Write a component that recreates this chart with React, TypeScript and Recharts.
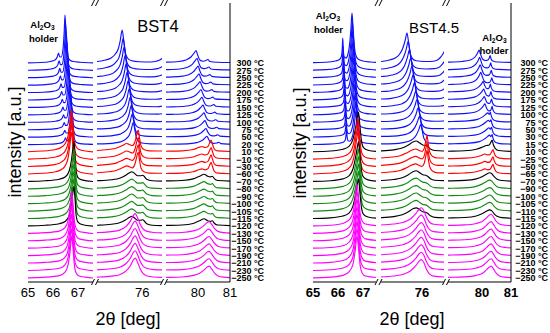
import React from "react";
import { LineChart, Line, XAxis, YAxis } from "recharts";

type Knot = [number, number];
type Profiles = Record<string, Knot[]>;

const FONT = "'Liberation Sans', Arial, Helvetica, sans-serif";

// temperatures (°C) of the stacked scans, top curve first
const BST4_TEMPS = [300, 275, 250, 225, 200, 175, 150, 125, 100, 75, 50, 20, 10, -10, -30, -60, -70, -80, -90, -100, -105, -115, -120, -130, -150, -170, -190, -210, -230, -250];
const BST45_TEMPS = [300, 275, 250, 225, 200, 175, 125, 100, 75, 50, 30, 15, 10, -25, -50, -65, -70, -90, -100, -105, -110, -115, -120, -130, -150, -170, -190, -210, -230, -250];

// phase group of each scan (b = blue, r = red, k = black, g = green, m = magenta)
const BST4_GROUPS = ["b1", "b1", "b1", "b1", "b1", "b1", "b1", "b1", "b1", "b1", "b1", "b1", "r", "r", "r", "r", "k", "g", "g", "g", "g", "g", "k", "m", "m", "m", "m", "m", "m", "m"];
const BST45_GROUPS = ["b1", "b1", "b1", "b1", "b2", "b2", "b2", "b2", "b3", "b3", "b3", "b3", "k1", "r", "r", "r", "k", "g", "g", "g", "g", "k", "m", "m", "m", "m", "m", "m", "m", "m"];

// peak drift of the blue scans (in steps) and their relative peak height
const BLUE_DRIFT = [0, 1, 2, 3, 4, 5, 6, 7, 8, 9, 10, 11, 0, 0, 0, 0, 0, 0, 0, 0, 0, 0, 0, 0, 0, 0, 0, 0, 0, 0];
const BLUE_DRIFT_SUB = [0, 1, 2, 3, 0, 1, 2, 3, 0, 1, 2, 3, 0, 0, 0, 0, 0, 0, 0, 0, 0, 0, 0, 0, 0, 0, 0, 0, 0, 0];
const BLUE_GAIN = [1, 0.97, 0.94, 0.91, 0.88, 0.85, 0.82, 0.79, 0.76, 0.73, 0.7, 0.67, 1, 1, 1, 1, 1, 1, 1, 1, 1, 1, 1, 1, 1, 1, 1, 1, 1, 1];

// ---- BST4 profiles: [2theta, height above baseline] ----
const L_SEG1: Profiles = {
  b1: [[64.4, 0], [65.5, 0.5], [65.9, 1.5], [66.08, 3], [66.17, 6], [66.22, 10], [66.27, 6], [66.33, 6], [66.4, 14], [66.45, 32], [66.48, 48], [66.51, 34], [66.55, 14], [66.6, 6], [66.67, 3], [66.8, 1.5], [67.1, 0.7], [67.7, 0]],
  r: [[64.4, 0], [65.6, 1], [66.1, 2.5], [66.35, 5], [66.5, 9], [66.6, 16], [66.68, 30], [66.74, 42], [66.79, 30], [66.85, 12], [66.93, 5], [67.05, 2.5], [67.3, 1], [67.7, 0]],
  g: [[64.4, 0], [65.7, 1], [66.25, 2.5], [66.5, 5], [66.65, 11], [66.74, 22], [66.8, 34], [66.84, 40], [66.88, 28], [66.93, 10], [67.0, 4], [67.15, 1.8], [67.7, 0]],
  m: [[64.4, 0], [65.7, 1], [66.25, 2.5], [66.48, 6], [66.6, 13], [66.68, 26], [66.75, 42], [66.8, 30], [66.86, 12], [66.93, 5], [67.05, 2.2], [67.3, 1], [67.7, 0]],
};
const L_SEG2: Profiles = {
  b1: [[73.8, 1], [74.4, 1.5], [74.7, 3], [74.9, 5], [75.05, 9], [75.15, 14], [75.22, 22], [75.29, 33], [75.34, 24], [75.4, 11], [75.48, 5], [75.6, 2.5], [75.9, 1.2], [76.3, 1], [76.5, 1.8], [76.62, 3], [76.72, 5], [76.8, 7]],
  r: [[73.8, 1], [74.4, 1.5], [74.8, 2.5], [75.1, 4], [75.3, 6.5], [75.45, 8.5], [75.55, 7.5], [75.65, 6.5], [75.74, 10], [75.81, 18], [75.86, 22], [75.9, 15], [75.96, 6], [76.06, 2.5], [76.25, 1.2], [76.8, 1]],
  g: [[73.8, 0.5], [74.4, 1], [74.9, 2], [75.2, 3.5], [75.42, 6.5], [75.55, 9], [75.63, 10], [75.72, 8.5], [75.84, 6], [75.94, 6], [76.02, 6.5], [76.08, 5], [76.16, 2.5], [76.35, 1], [76.8, 0.5]],
  m: [[73.8, 0.5], [74.4, 1], [74.9, 2], [75.2, 3.5], [75.42, 7], [75.58, 12.5], [75.68, 18], [75.75, 20], [75.82, 17], [75.92, 10], [76.02, 5], [76.15, 2.5], [76.4, 1.2], [76.8, 0.8]],
};
const L_SEG3: Profiles = {
  b1: [[78.4, 0.5], [79.0, 0.8], [79.4, 1.5], [79.62, 3], [79.78, 6], [79.88, 10], [79.94, 12.5], [79.99, 8], [80.06, 3], [80.15, 1.8], [80.25, 2.5], [80.31, 3.5], [80.37, 1.5], [80.6, 0.8], [81.1, 0.5]],
  r: [[78.4, 0.5], [79.0, 0.8], [79.5, 1.2], [79.85, 2.5], [80.02, 4.5], [80.12, 5.5], [80.22, 4.5], [80.31, 5.5], [80.37, 9.5], [80.41, 12], [80.45, 8], [80.51, 3], [80.62, 1.2], [81.1, 0.5]],
  g: [[78.4, 0.5], [79.0, 0.8], [79.5, 1.2], [79.85, 2.8], [80.05, 5.5], [80.19, 7.5], [80.3, 5.5], [80.39, 4.8], [80.45, 5.5], [80.51, 3], [80.62, 1.2], [81.1, 0.5]],
  m: [[78.4, 0.5], [79.0, 0.8], [79.5, 1.2], [79.85, 2.8], [80.05, 5], [80.2, 8.5], [80.3, 11.5], [80.35, 12], [80.42, 9.5], [80.52, 5], [80.64, 2], [80.8, 1], [81.1, 0.5]],
};

// ---- BST4.5 profiles ----
const R_SEG1: Profiles = {
  b1: [[64.4, 0], [65.5, 0.8], [65.9, 2], [66.06, 3.5], [66.13, 6], [66.17, 14], [66.19, 25], [66.21, 14], [66.25, 6], [66.32, 5], [66.4, 9], [66.47, 20], [66.52, 35], [66.56, 50], [66.6, 36], [66.65, 18], [66.71, 8], [66.8, 4], [67.0, 2], [67.3, 1], [67.6, 0.5]],
  r: [[64.4, 0], [65.6, 1], [66.1, 2.5], [66.38, 5], [66.55, 10], [66.66, 20], [66.74, 34], [66.8, 42], [66.85, 30], [66.91, 12], [66.98, 5], [67.1, 2.2], [67.3, 1], [67.6, 0.5]],
  g: [[64.4, 0], [65.7, 1], [66.2, 2.8], [66.45, 6], [66.6, 13], [66.7, 24], [66.77, 34], [66.82, 40], [66.87, 28], [66.94, 11], [67.02, 4.5], [67.2, 1.8], [67.6, 0.5]],
  m: [[64.4, 0], [65.7, 1], [66.2, 2.8], [66.45, 6.5], [66.6, 14], [66.69, 28], [66.76, 42], [66.82, 30], [66.89, 12], [66.97, 5], [67.1, 2.2], [67.6, 0.5]],
};
const R_SEG2: Profiles = {
  b1: [[73.9, 1], [74.55, 1.5], [74.85, 3], [75.05, 5], [75.2, 8.5], [75.31, 14], [75.4, 22], [75.47, 30], [75.52, 22], [75.58, 10], [75.66, 4.5], [75.8, 2.2], [76.1, 1.5], [76.4, 1.8], [76.55, 3], [76.65, 5.5], [76.73, 8.5], [76.8, 12], [76.9, 16]],
  r: [[73.9, 1], [74.55, 1.5], [74.95, 2.5], [75.25, 4], [75.45, 6.5], [75.62, 9], [75.78, 10.5], [75.9, 9], [76.0, 8], [76.08, 11], [76.14, 19], [76.18, 24], [76.22, 16], [76.28, 7], [76.38, 3], [76.55, 1.5], [76.9, 1.5]],
  g: [[73.9, 0.8], [74.55, 1.2], [75.0, 2.2], [75.3, 4], [75.52, 7], [75.68, 10], [75.8, 11], [75.92, 9], [76.03, 7], [76.13, 6.5], [76.2, 5.5], [76.3, 3], [76.45, 1.5], [76.9, 1]],
  m: [[73.9, 0.8], [74.55, 1.2], [75.0, 2.2], [75.35, 4], [75.6, 7.5], [75.78, 12.5], [75.9, 17], [75.98, 18.5], [76.06, 16], [76.16, 9], [76.27, 4], [76.42, 2], [76.9, 1]],
};
const R_SEG3: Profiles = {
  b1: [[78.2, 0.5], [78.83, 0.8], [79.3, 1.5], [79.6, 3], [79.76, 6], [79.85, 10], [79.9, 13], [79.95, 9], [80.02, 4], [80.12, 2.5], [80.21, 3], [80.25, 5], [80.28, 7.5], [80.31, 4.5], [80.37, 2], [80.55, 1], [81.1, 0.5]],
  b2: [[78.2, 0.5], [78.83, 0.8], [79.4, 1.5], [79.72, 3], [79.9, 6], [79.99, 9], [80.04, 11], [80.09, 7.5], [80.15, 4.5], [80.22, 4], [80.26, 6], [80.29, 8.5], [80.32, 5], [80.39, 2], [80.55, 1], [81.1, 0.5]],
  b3: [[78.2, 0.5], [78.83, 0.8], [79.5, 1.5], [79.85, 3], [80.02, 5.5], [80.13, 8], [80.2, 9.5], [80.25, 8], [80.29, 10], [80.32, 6.5], [80.38, 3], [80.48, 1.5], [80.65, 0.8], [81.1, 0.5]],
  k1: [[78.2, 0.5], [78.83, 0.8], [79.4, 1.3], [79.8, 2.8], [80.02, 5], [80.15, 6.5], [80.25, 7], [80.31, 10], [80.35, 12], [80.39, 7.5], [80.46, 3.5], [80.58, 1.5], [81.1, 0.5]],
  r: [[78.2, 0.5], [78.83, 0.8], [79.4, 1.3], [79.8, 2.5], [79.98, 4], [80.1, 5.5], [80.2, 4.5], [80.28, 5], [80.34, 8], [80.38, 10], [80.42, 6.5], [80.48, 3], [80.6, 1.3], [81.1, 0.5]],
  g: [[78.2, 0.5], [78.83, 0.8], [79.4, 1.3], [79.8, 2.8], [80.0, 5], [80.15, 7.5], [80.26, 9], [80.34, 8], [80.42, 5], [80.52, 2.5], [80.68, 1.2], [81.1, 0.5]],
  m: [[78.2, 0.5], [78.83, 0.8], [79.4, 1.3], [79.8, 2.8], [80.02, 5], [80.16, 8.5], [80.27, 11.5], [80.32, 12], [80.39, 9.5], [80.49, 5], [80.62, 2], [80.8, 1], [81.1, 0.5]],
};

const COLORS: Record<string, string> = {
  b1: "#1010ff",
  b2: "#1010ff",
  b3: "#1010ff",
  r: "#ff0000",
  k: "#000000",
  k1: "#000000",
  g: "#138a13",
  m: "#ff00ff",
};
const FALLBACK: Record<string, string> = { b2: "b1", b3: "b2", k1: "k", k: "g" };

interface Seg {
  domain: [number, number];
  ticks: number[];
  x0: number;
  x1: number;
  step: number;
  sub: boolean;
  profiles: Profiles;
}

const BST4_SEGS: Seg[] = [
  { domain: [65, 67.6], ticks: [65, 66, 67], x0: 28, x1: 93, step: 0.0255, sub: false, profiles: L_SEG1 },
  { domain: [74.4, 76.7], ticks: [76], x0: 97, x1: 162, step: 0.0355, sub: false, profiles: L_SEG2 },
  { domain: [79, 81], ticks: [80, 81], x0: 166, x1: 230, step: 0.031, sub: false, profiles: L_SEG3 },
];
const BST45_SEGS: Seg[] = [
  { domain: [65, 67.52], ticks: [65, 66, 67], x0: 313, x1: 376, step: 0.0136, sub: false, profiles: R_SEG1 },
  { domain: [74.55, 76.78], ticks: [76], x0: 381, x1: 444, step: 0.044, sub: false, profiles: R_SEG2 },
  { domain: [78.83, 81], ticks: [80, 81], x0: 448, x1: 511, step: 0.02, sub: true, profiles: R_SEG3 },
];

// stacking layout (plot is 279px tall, 1 unit = 1px)
const PLOT_H = 279;
const BASE_TOP = 219;
const STACK = 7.42;
const baseline = (t: number) => Math.round((BASE_TOP - t * STACK) * 100) / 100;

const fmtTemp = (t: number) => `${t < 0 ? "\u2212" + Math.abs(t) : t} \u00b0C`;

const findProfile = (profiles: Profiles, g: string): Knot[] => {
  let key: string | undefined = g;
  while (key && !profiles[key]) key = FALLBACK[key];
  return key ? profiles[key] : [];
};

interface PanelProps {
  segs: Seg[];
  groups: string[];
  temps: number[];
  labelEnd: number;
  tickWeight: number;
}

function Segment({ seg, index, groups, temps, labelEnd, tickWeight }: PanelProps & { seg: Seg; index: number }) {
  const first = index === 0;
  const last = index === 2;
  const padL = first ? 14 : 2;
  const padR = last ? 0 : 2;
  const yW = last ? 44 : 0;
  const width = padL + (seg.x1 - seg.x0) + padR + yW;

  const series = groups.map((g, t) => {
    const drift = seg.sub ? BLUE_DRIFT_SUB[t] : BLUE_DRIFT[t];
    const gain = seg.sub ? 1 : BLUE_GAIN[t];
    const shift = seg.step * drift;
    const base = baseline(t);
    return {
      key: `c${t}`,
      color: COLORS[g],
      data: findProfile(seg.profiles, g).map(([x, h]) => ({ x: x + shift, y: base + h * gain })),
    };
  });

  // temperature labels sit on the right frame, one per scan baseline
  const labelValues = temps.map((_, t) => baseline(t));
  const labelMap = new Map<number, string>();
  labelValues.forEach((v, i) => labelMap.set(v, fmtTemp(temps[i])));

  const renderTick = (props: any) => {
    const { x, y, payload, index: i } = props;
    const text = labelMap.get(payload.value) ?? fmtTemp(temps[i] ?? 0);
    return (
      <text x={x + labelEnd} y={y} dy="0.35em" textAnchor="end" fontSize={9} fontWeight={700} fontFamily={FONT} fill="#000">
        {text}
      </text>
    );
  };

  return (
    <div style={{ position: "absolute", left: seg.x0 - padL, top: 0 }}>
      <LineChart width={width} height={300} margin={{ top: 3, right: padR, bottom: 0, left: padL }}>
        <XAxis
          xAxisId="b"
          type="number"
          dataKey="x"
          domain={seg.domain}
          ticks={seg.ticks}
          allowDataOverflow
          interval={0}
          height={18}
          tickLine={false}
          tickSize={4}
          tickMargin={2}
          axisLine={{ stroke: "#000" }}
          tick={{ fontSize: 13, fill: "#000", fontFamily: FONT, fontWeight: tickWeight }}
        />
        <XAxis
          xAxisId="t"
          orientation="top"
          type="number"
          dataKey="x"
          domain={seg.domain}
          allowDataOverflow
          height={0}
          tick={false}
          tickLine={false}
          axisLine={{ stroke: "#000" }}
        />
        <YAxis
          yAxisId="y"
          type="number"
          domain={[0, PLOT_H]}
          allowDataOverflow
          orientation={last ? "right" : "left"}
          width={yW}
          hide={!first && !last}
          ticks={last ? labelValues : []}
          interval={0}
          tick={last ? renderTick : false}
          tickLine={false}
          tickSize={0}
          tickMargin={0}
          axisLine={{ stroke: "#000" }}
        />
        {series.map((s) => (
          <Line
            key={s.key}
            xAxisId="b"
            yAxisId="y"
            data={s.data}
            dataKey="y"
            type="monotone"
            stroke={s.color}
            strokeWidth={1.15}
            dot={false}
            activeDot={false}
            isAnimationActive={false}
          />
        ))}
      </LineChart>
    </div>
  );
}

function Panel(props: PanelProps) {
  return (
    <>
      {props.segs.map((seg, i) => (
        <Segment key={i} seg={seg} index={i} {...props} />
      ))}
    </>
  );
}

const BREAKS = [95, 164, 378.5, 446];

function Txt({ cx, top, size, weight = 400, children }: { cx: number; top: number; size: number; weight?: number; children: React.ReactNode }) {
  return (
    <div
      style={{
        position: "absolute",
        left: cx - 100,
        top,
        width: 200,
        textAlign: "center",
        fontSize: size,
        lineHeight: `${size}px`,
        fontWeight: weight,
        whiteSpace: "nowrap",
      }}
    >
      {children}
    </div>
  );
}

function VTxt({ cx, cy, size, children }: { cx: number; cy: number; size: number; children: React.ReactNode }) {
  return (
    <div
      style={{
        position: "absolute",
        left: cx - 100,
        top: cy - size / 2,
        width: 200,
        height: size,
        textAlign: "center",
        fontSize: size,
        lineHeight: `${size}px`,
        whiteSpace: "nowrap",
        transform: "rotate(-90deg)",
      }}
    >
      {children}
    </div>
  );
}

const Sub = ({ children }: { children: React.ReactNode }) => (
  <sub style={{ fontSize: "70%", verticalAlign: "-0.25em", lineHeight: 0 }}>{children}</sub>
);

const Al2O3 = () => (
  <span>
    Al<Sub>2</Sub>O<Sub>3</Sub>
  </span>
);

export default function App() {
  return (
    <div
      style={{
        position: "absolute",
        left: 0,
        top: 0,
        width: 550,
        height: 333,
        background: "#fff",
        fontFamily: FONT,
        color: "#000",
        overflow: "hidden",
      }}
    >
      <Panel segs={BST4_SEGS} groups={BST4_GROUPS} temps={BST4_TEMPS} labelEnd={34} tickWeight={400} />
      <Panel segs={BST45_SEGS} groups={BST45_GROUPS} temps={BST45_TEMPS} labelEnd={37} tickWeight={700} />

      <svg width={550} height={333} style={{ position: "absolute", left: 0, top: 0, pointerEvents: "none" }}>
        {BREAKS.map((cx) =>
          [3, 282].map((cy) => (
            <g key={`${cx}-${cy}`} stroke="#000" strokeWidth={1}>
              <line x1={cx - 3.5} y1={cy + 3} x2={cx - 0.5} y2={cy - 3} />
              <line x1={cx + 0.5} y1={cy + 3} x2={cx + 3.5} y2={cy - 3} />
            </g>
          ))
        )}
      </svg>

      <Txt cx={158} top={18} size={16.5}>BST4</Txt>
      <Txt cx={434} top={19.5} size={15}>BST4.5</Txt>

      <Txt cx={42.5} top={20} size={9.5} weight={700}><Al2O3 /></Txt>
      <Txt cx={43.5} top={34} size={9.5} weight={700}>holder</Txt>
      <Txt cx={328} top={11} size={9.5} weight={700}><Al2O3 /></Txt>
      <Txt cx={328.5} top={25} size={9.5} weight={700}>holder</Txt>
      <Txt cx={494.5} top={33} size={9.5} weight={700}><Al2O3 /></Txt>
      <Txt cx={494} top={46} size={9.5} weight={700}>holder</Txt>

      <VTxt cx={15} cy={142} size={18}>intensity [a.u.]</VTxt>
      <VTxt cx={300} cy={143} size={18}>intensity [a.u.]</VTxt>

      <Txt cx={128} top={309.5} size={18}>2θ [deg]</Txt>
      <Txt cx={412} top={309.5} size={18}>2θ [deg]</Txt>
    </div>
  );
}
